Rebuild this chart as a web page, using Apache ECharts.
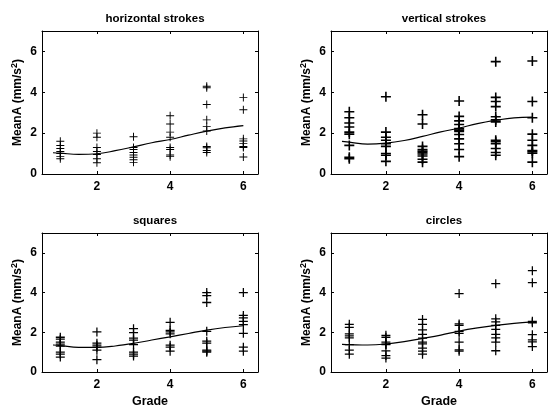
<!DOCTYPE html>
<html><head><meta charset="utf-8">
<script src="https://cdn.jsdelivr.net/npm/echarts@6/dist/echarts.min.js"></script>
<style>html,body{margin:0;padding:0;background:#fff}#c{width:550px;height:409px}</style>
</head><body><div id="c"></div>
<script>
const panelTitles = ['horizontal strokes', 'vertical strokes', 'squares', 'circles'];
const grades = [1, 2, 3, 4, 5, 6];
const xTickValues = [2, 4, 6];
const yTickValues = [0, 2, 4, 6];
const horizontalStrokes = [
  [1.6, 1.4, 1.25, 1.1, 1.0, 0.85, 0.75],
  [2.0, 1.8, 1.3, 1.1, 0.95, 0.75, 0.55],
  [1.82, 1.3, 1.2, 1.05, 0.93, 0.82, 0.7, 0.57],
  [2.85, 2.45, 2.05, 1.8, 1.3, 1.2, 0.93, 0.85],
  [4.3, 4.22, 3.4, 2.65, 2.32, 2.1, 1.35, 1.28, 1.15, 1.05],
  [3.75, 3.15, 1.72, 1.62, 1.5, 1.35, 1.3, 0.83]
];
const verticalStrokes = [
  [3.05, 2.75, 2.5, 2.3, 2.05, 1.95, 1.4, 0.82, 0.75],
  [3.78, 2.05, 1.8, 1.65, 1.48, 1.35, 1.0, 0.92, 0.62],
  [2.9, 2.45, 1.35, 1.2, 1.12, 1.05, 0.98, 0.88, 0.72, 0.58],
  [3.57, 2.82, 2.6, 2.42, 2.22, 2.15, 2.08, 1.93, 1.72, 1.48, 1.2, 0.85],
  [5.5, 3.75, 3.55, 3.3, 2.8, 2.65, 2.55, 1.65, 1.58, 1.48, 1.25, 1.05, 0.92],
  [5.53, 3.55, 2.75, 1.95, 1.65, 1.4, 1.15, 1.1, 1.02, 0.58]
];
const squares = [
  [1.75, 1.65, 1.5, 1.4, 1.3, 1.0, 0.9, 0.75],
  [2.02, 1.45, 1.35, 1.25, 1.1, 0.62],
  [2.18, 1.98, 1.7, 1.6, 1.38, 1.0, 0.9, 0.8],
  [2.5, 2.1, 2.02, 1.92, 1.35, 1.25, 1.05],
  [4.0, 3.85, 3.5, 2.05, 1.55, 1.45, 1.1, 1.05, 1.0],
  [4.0, 2.85, 2.72, 2.55, 2.38, 1.95, 1.25, 1.05]
];
const circles = [
  [2.4, 2.25, 1.92, 1.82, 1.72, 1.38, 1.1, 0.9],
  [1.85, 1.75, 1.5, 1.4, 1.38, 1.06, 0.83, 0.7],
  [2.65, 2.4, 2.12, 1.9, 1.7, 1.5, 1.42, 1.2, 1.05, 0.9],
  [3.95, 2.42, 2.35, 2.05, 1.95, 1.5, 1.12, 1.05],
  [4.45, 2.68, 2.52, 2.35, 2.15, 1.9, 1.72, 1.5, 1.07],
  [5.1, 4.5, 2.55, 2.48, 1.88, 1.62, 1.52, 1.28]
];
const fitX = [0.8, 1, 1.5, 2, 2.5, 3, 3.5, 4, 4.5, 5, 5.5, 6];
const horizontalFit = [1.04, 1.02, 0.96, 0.99, 1.14, 1.33, 1.53, 1.69, 1.9, 2.1, 2.26, 2.37];
const verticalFit = [1.6, 1.56, 1.46, 1.51, 1.64, 1.84, 2.06, 2.25, 2.47, 2.63, 2.75, 2.78];
const squaresFit = [1.36, 1.33, 1.24, 1.24, 1.31, 1.44, 1.61, 1.77, 1.94, 2.11, 2.24, 2.33];
const circlesFit = [1.39, 1.38, 1.36, 1.41, 1.53, 1.69, 1.86, 2.06, 2.22, 2.35, 2.45, 2.52];

const pointSets = [horizontalStrokes, verticalStrokes, squares, circles];
const fitSets = [horizontalFit, verticalFit, squaresFit, circlesFit];

const FONT = '"Liberation Sans", Arial, Helvetica, sans-serif';
const grids = [
  {left: 42, top: 31, width: 216, height: 143},
  {left: 331, top: 31, width: 216, height: 143},
  {left: 42, top: 233, width: 216, height: 141},
  {left: 331, top: 233, width: 216, height: 141}
];
const crossPaths = [
  'path://M0,4.4h10v1.2h-10z M4.4,0h1.2v10h-1.2z',
  'path://M0,4.2h10v1.6h-10z M4.2,0h1.6v10h-1.6z',
  'path://M0,4.3h10v1.4h-10z M4.3,0h1.4v10h-1.4z',
  'path://M0,4.3h10v1.4h-10z M4.3,0h1.4v10h-1.4z'
];
const markerSizes = [8, 10, 9, 9];

const option = {
  backgroundColor: '#fff',
  animation: false,
  title: panelTitles.map((t, i) => ({
    text: t,
    left: grids[i].left + grids[i].width / 2,
    top: grids[i].top - 23,
    textAlign: 'center',
    textStyle: {fontFamily: FONT, fontWeight: 'bold', fontSize: 11.5, color: '#000'}
  })),
  grid: grids.map(g => Object.assign({containLabel: false, show: false}, g)),
  xAxis: [],
  yAxis: [],
  series: []
};

const lineStyle = {color: '#000', width: 1};
for (let i = 0; i < 4; i++) {
  const bottomRow = i >= 2;
  option.xAxis.push({
    type: 'value', gridIndex: i, min: 0.5, max: 6.4, position: 'bottom',
    axisLine: {show: true, onZero: false, lineStyle},
    axisTick: {show: true, inside: true, length: 3, lineStyle, customValues: xTickValues},
    axisLabel: {show: true, color: '#000', fontFamily: FONT, fontWeight: 'bold', fontSize: 12, margin: 7, customValues: xTickValues},
    splitLine: {show: false},
    name: bottomRow ? 'Grade' : '', nameLocation: 'middle', nameGap: 23,
    nameTextStyle: {color: '#000', fontFamily: FONT, fontWeight: 'bold', fontSize: 12.5}
  });
  option.xAxis.push({
    type: 'value', gridIndex: i, min: 0.5, max: 6.4, position: 'top',
    axisLine: {show: true, onZero: false, lineStyle},
    axisTick: {show: true, inside: true, length: 3, lineStyle, customValues: xTickValues},
    axisLabel: {show: false},
    splitLine: {show: false}
  });
  option.yAxis.push({
    type: 'value', gridIndex: i, min: 0, max: 7, position: 'left',
    axisLine: {show: true, onZero: false, lineStyle},
    axisTick: {show: true, inside: true, length: 3, lineStyle, customValues: yTickValues},
    axisLabel: {show: true, color: '#000', fontFamily: FONT, fontWeight: 'bold', fontSize: 12, margin: 5, customValues: yTickValues},
    splitLine: {show: false},
    name: 'MeanA (mm/s{sup|2})', nameLocation: 'middle', nameGap: 17, nameRotate: 90,
    nameTextStyle: {
      color: '#000', fontFamily: FONT, fontWeight: 'bold', fontSize: 12,
      rich: {sup: {fontSize: 9, fontWeight: 'bold', fontFamily: FONT, color: '#000', verticalAlign: 'top', padding: [0, 0, 6, 0]}}
    }
  });
  option.yAxis.push({
    type: 'value', gridIndex: i, min: 0, max: 7, position: 'right',
    axisLine: {show: true, onZero: false, lineStyle},
    axisTick: {show: true, inside: true, length: 3, lineStyle, customValues: yTickValues},
    axisLabel: {show: false},
    splitLine: {show: false}
  });

  const pts = [];
  pointSets[i].forEach((vals, gi) => vals.forEach(v => pts.push([grades[gi], v])));
  option.series.push({
    type: 'scatter', xAxisIndex: 2 * i, yAxisIndex: 2 * i,
    data: pts, symbol: crossPaths[i], symbolSize: markerSizes[i],
    itemStyle: {color: '#000', opacity: 1}, silent: true
  });
  option.series.push({
    type: 'line', xAxisIndex: 2 * i, yAxisIndex: 2 * i,
    data: fitX.map((x, k) => [x, fitSets[i][k]]),
    smooth: 0.4, showSymbol: false, symbol: 'none',
    lineStyle: {color: '#000', width: 1.2}, silent: true
  });
}

const chart = echarts.init(document.getElementById('c'), null, {renderer: 'canvas'});
chart.setOption(option);
</script>
</body></html>
